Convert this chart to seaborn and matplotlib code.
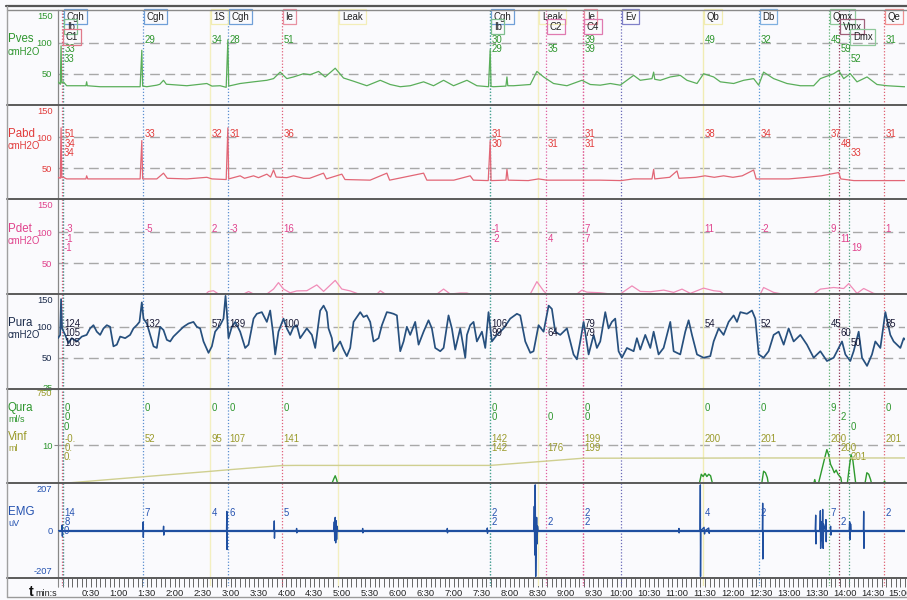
import matplotlib
matplotlib.use('Agg')
import matplotlib.pyplot as plt
from matplotlib.lines import Line2D
import seaborn as sns

sns.set_style('white')
plt.rcParams['font.family'] = ['Liberation Sans', 'DejaVu Sans']

# ---------------- data (time in seconds) ----------------
pves_pts = [(-5.5, 37), (-3.0, 33), (-2.2, 95), (-1.5, 35), (0.2, 37), (3.8, 30.6), (24.5, 30.6), (25.3, 37),
            (26.0, 30.6), (39.8, 29), (82.8, 29), (84.6, 88), (85.5, 30), (90.0, 29), (100.7, 31.5), (104.0, 33),
            (107.9, 39.4), (111.0, 33), (115.1, 32.6), (133.0, 30.6), (154.5, 34.2), (160.0, 30), (168.8, 30.6),
            (175.3, 28), (177.1, 105), (178.0, 30), (179.6, 30.6), (190.3, 34.2), (204.7, 36.9), (219.0, 39.4),
            (226.2, 42.1), (233.3, 52.6), (240.5, 42.1), (247.7, 44.8), (258.4, 50), (265.6, 48.4), (274.6, 53.7),
            (281.7, 44.8), (292.5, 58.9), (301.4, 43.1), (312.2, 37.9), (326.5, 30.6), (340.9, 39.4), (351.6, 32.6),
            (362.4, 29), (373.1, 30.6), (387.5, 36.9), (398.2, 30.6), (409.0, 39.4), (419.7, 30.6), (434.1, 39.4),
            (444.8, 30.6), (457.3, 29), (459.1, 89), (460.0, 29.5), (462.7, 29), (476.0, 30), (477.1, 44.8),
            (478.0, 30.6), (484.2, 30.6), (502.2, 32.6), (509.3, 53.7), (516.5, 44.8), (527.2, 34.2), (541.6, 30.6),
            (557.7, 39.4), (566.7, 32.6), (577.4, 31.5), (588.2, 34.2), (598.9, 31.5), (613.3, 47.4), (620.4, 39.4),
            (633.0, 42.1), (634.8, 52.6), (636.0, 41), (641.9, 39.4), (652.7, 44.8), (663.4, 47.4), (670.6, 39.4),
            (681.4, 34.2), (688.5, 50), (699.3, 44.8), (706.5, 36.9), (720.8, 34.2), (731.6, 39.4), (742.3, 42.1),
            (747.7, 31.5), (753.0, 52.6), (763.8, 42.1), (778.1, 34.2), (792.5, 30.6), (806.8, 30.6), (814.0, 42.1),
            (828.3, 50), (833.7, 55.3), (839.1, 42.1), (846.2, 50), (853.4, 36.9), (864.2, 44.8), (874.9, 32.6),
            (885.7, 30.6), (903.6, 29), (906.0, 29)]

pabd_pts = [(-5.5, 35.6), (-3, 34), (-2.2, 115.5), (-1.5, 35), (0.2, 35.6), (3.8, 33), (24.5, 33), (25.3, 38),
            (26.5, 33), (82.8, 33), (84.6, 95), (85.5, 33), (100.7, 33), (107.9, 42.3), (112, 34), (133, 33),
            (154.5, 35.6), (160, 33), (175.3, 32), (177.1, 115.5), (178, 33), (190.3, 38), (195, 34), (204.7, 38),
            (210, 35), (219, 40.7), (223, 36), (226.2, 47.4), (229, 36), (240.5, 35), (247.7, 38), (258.4, 34),
            (265, 34), (279.9, 42.3), (283, 33), (299.6, 40.7), (303, 32), (330, 31), (348, 42.3), (351, 31),
            (387.5, 42.3), (391, 31), (420, 31), (437.6, 38), (441, 31), (457, 30.3), (459.1, 95), (460, 30.3),
            (476, 31), (477.1, 48.5), (478.5, 31), (500, 30.3), (511, 33), (520, 31), (560, 31), (577, 31),
            (600, 30.3), (613, 33), (633, 33), (634.8, 48.5), (636, 33), (652, 35.6), (659.9, 45.9), (662, 34),
            (680, 35.6), (690, 38), (700, 35.6), (710, 38), (720, 35.6), (730, 38), (742.3, 47.4), (745, 33),
            (760, 33), (780, 33), (800, 35.6), (815, 38), (833.7, 43.3), (836, 33), (850, 30.3), (906, 30.3)]

pdet_pts = [(-5.5, -3), (152.8, -3), (153.5, 0), (156.3, 4), (161.6, 5.3), (167, 0), (167.5, -3), (193.5, -3),
            (194, 0), (199.4, 4), (204.7, 0), (205.2, -3), (218.5, -3), (219, 0), (226.2, 8), (231.5, 18.4),
            (236.9, 8), (244, 2), (251.2, 5), (262, 5.3), (272.7, 14.7), (280, 4.2), (292.5, 22), (299.6, 8),
            (308.6, 5), (317.6, 0), (318, -3), (336.9, -3), (337.4, 0), (341, 5.3), (346.3, 0), (346.8, -3),
            (401.4, -3), (401.9, 0), (409, 8), (416.1, 0), (426.9, 1.6), (434, 1.6), (437.6, 0), (438, -3),
            (501.7, -3), (502.2, 0), (509.3, 20), (516.5, 5), (520, 0), (520.5, -3), (551.8, -3), (552.3, 0),
            (557.7, 6.3), (563, 3), (577.4, 2), (588.2, 0), (588.7, -3), (598.4, -3), (598.9, 0), (611.5, 13.1),
            (620.4, 4.2), (631.2, 3.6), (645.6, 6.3), (656.3, 2.6), (665.3, 7.9), (674.2, 1), (688.5, 9.5),
            (699.3, 5.3), (706.5, 4.2), (710, 0), (710.5, -3), (749, -3), (749.5, 0), (753, 10.5), (763.8, 2.6),
            (772.8, 0), (773.3, -3), (806.3, -3), (806.8, 0), (814, 7.9), (828.3, 10.5), (839.1, 8.9),
            (844.5, 16.8), (853.4, 1), (860.6, 8.9), (871.3, 1), (874.9, 0), (875.4, -3), (906, -3)]

pura_pts = [(-5.5, 81.6), (-3.2, 86.9), (-2.2, 144.7), (-1.1, 97.4), (2.2, 86.9), (5.7, 73.7), (9.3, 81.6),
            (14.7, 76.3), (20.1, 84.2), (25.3, 86.9), (29.0, 97.4), (32.6, 102.6), (36.2, 92.1), (39.8, 86.9),
            (43.4, 97.4), (47.0, 102.6), (50.5, 100), (54.1, 68.4), (57.7, 71.1), (61.3, 84.2), (66.7, 81.6),
            (72.0, 86.9), (75.6, 97.4), (79.2, 102.6), (82.1, 107.9), (84.6, 139.5), (86.4, 113.2), (90.0, 105.3),
            (93.6, 86.9), (97.2, 68.4), (100.7, 65.8), (104.3, 100), (107.9, 94.7), (111.5, 78.9), (115.1, 76.3),
            (118.6, 84.2), (124.0, 92.1), (129.4, 100), (134.8, 105.3), (140.1, 107.9), (143.7, 100),
            (147.3, 97.4), (150.9, 76.3), (156.3, 57.9), (159.9, 68.4), (163.4, 92.1), (168.8, 102.6),
            (172.4, 113.2), (174.6, 150), (176.0, 123.7), (177.8, 81.6), (181.4, 100), (185.0, 107.9),
            (190.3, 92.1), (195.7, 65.8), (199.3, 71.1), (204.7, 113.2), (208.2, 121), (213.6, 123.7),
            (219.0, 107.9), (222.6, 126.3), (225.5, 92.1), (228.0, 55.3), (231.5, 92.1), (236.9, 113.2),
            (240.5, 97.4), (244.1, 86.9), (247.7, 100), (251.2, 102.6), (254.8, 81.6), (262.0, 97.4),
            (267.4, 86.9), (271.0, 65.8), (276.3, 126), (280.0, 134.2), (283.5, 123.7), (285.3, 97.4),
            (288.9, 81.6), (290.7, 60.5), (294.3, 68.4), (297.8, 76.3), (301.4, 63.2), (305.0, 52.6),
            (308.6, 65.8), (312.2, 107.9), (315.8, 115.8), (319.4, 123.7), (322.9, 115.8), (326.5, 118.4),
            (330.1, 107.9), (333.7, 76.3), (339.1, 81.6), (342.7, 102.6), (348.0, 123.7), (351.6, 122.6),
            (355.2, 121), (358.8, 118.4), (362.4, 60.5), (366.0, 76.3), (369.5, 100), (373.1, 86.9),
            (378.5, 107.9), (382.1, 71.1), (387.5, 92.1), (392.8, 110.5), (396.4, 97.4), (400.0, 65.8),
            (405.4, 60.5), (409.0, 65.8), (414.3, 118.4), (417.9, 97.4), (421.5, 63.2), (426.9, 97.4),
            (432.3, 50), (434.1, 86.9), (437.6, 102.6), (441.2, 107.9), (444.8, 76.3), (450.2, 92.1),
            (453.8, 65.8), (457.3, 123.7), (460.9, 76.3), (466.3, 86.9), (473.5, 97.4), (480.6, 113.2),
            (487.8, 121), (491.4, 118.4), (496.8, 76.3), (502.2, 57.9), (505.7, 60.5), (511.1, 102.6),
            (516.5, 92.1), (521.9, 134.2), (525.4, 128.9), (529.0, 92.1), (534.4, 86.9), (541.6, 97.4),
            (545.2, 76.3), (548.7, 55.3), (552.3, 47.4), (555.9, 76.3), (559.5, 107.9), (564.9, 55.3),
            (570.3, 86.9), (573.8, 65.8), (577.4, 76.3), (582.8, 123.7), (586.3, 97.4), (589.9, 107.9),
            (593.5, 113.2), (597.1, 60.5), (600.7, 50), (606.1, 65.8), (613.3, 60.5), (616.8, 81.6),
            (620.4, 63.2), (625.8, 86.9), (631.2, 65.8), (634.8, 92.1), (640.1, 55.3), (645.5, 65.8),
            (652.7, 107.9), (656.3, 60.5), (663.4, 55.3), (668.8, 92.1), (672.4, 110.5), (676.0, 86.9),
            (681.4, 55.3), (688.5, 50), (695.7, 52.6), (699.3, 76.3), (704.7, 97.4), (710.0, 86.9),
            (715.4, 107.9), (720.8, 118.4), (724.4, 107.9), (728.0, 123.7), (735.1, 121), (740.5, 126.3),
            (744.1, 113.2), (747.7, 55.3), (753.0, 50), (758.4, 60.5), (763.8, 86.9), (769.2, 92.1),
            (774.6, 71.1), (779.9, 97.4), (785.3, 76.3), (792.5, 86.9), (799.6, 71.1), (806.8, 50),
            (814.0, 60.5), (821.1, 44.7), (828.3, 50), (833.7, 65.8), (837.3, 76.3), (840.9, 55.3),
            (846.2, 44.7), (849.8, 60.5), (855.2, 92.1), (858.8, 50), (864.2, 36.8), (869.5, 55.3),
            (873.1, 76.3), (878.5, 65.8), (883.9, 123.7), (889.2, 86.9), (892.8, 76.3), (900.0, 65.8),
            (903.6, 81.6), (906.0, 78)]

qura_pts = [(-5.5, 0), (289, 0), (291, 1.2), (292.5, 2.0), (294, 1.0), (295, 0), (684, 0), (686, 2.4),
            (688, 1.8), (690, 2.6), (692, 1.8), (694, 2.4), (696, 2.0), (698, 0), (751, 0), (753, 3.2),
            (755, 2.8), (757, 1.5), (758, 0), (807, 0), (808, 1.0), (809, 0), (812, 0), (816, 4), (819, 7),
            (821, 8.9), (823, 7.5), (825, 5.0), (827, 4), (829, 2.8), (831, 3.5), (833, 2.4), (836, 1.5),
            (837, 0), (843, 0), (845, 4), (847, 7.6), (849, 6), (851, 2), (852, 0), (862, 0), (864, 2.8),
            (866, 2.4), (868, 1), (869, 0), (882, 0), (883, 0.6), (884, 0), (906, 0)]

vinf_pts = [(-5.5, 0), (0, 0), (86, 52), (158, 95), (177, 107), (235, 141), (250, 142), (459, 142),
            (519, 176), (559, 199), (688, 200), (748, 201), (906, 201)]

emg_pts = [(-5.5, 0), (-1.2, 0), (-1.0, 25), (-0.8, -25), (-0.5, 0), (85.7, 0), (86.0, 39), (86.2, -30),
           (86.5, 0), (107.7, 0), (108.0, 20), (108.2, -20), (108.5, 0), (175.7, 0), (176.0, 87), (176.2, -85),
           (176.5, 0), (226.7, 0), (227.0, 44), (227.2, -34), (227.5, 0), (250.7, 0), (251.0, 10), (251.2, -10),
           (251.5, 0), (291.0, 0), (291.5, 40), (292.0, -45), (292.5, 60), (293.0, -55), (293.5, 45),
           (294.0, -40), (294.5, 20), (295.0, 0), (321.7, 0), (322.0, 10), (322.2, -10), (322.5, 0), (412.7, 0),
           (413.0, 10), (413.2, -10), (413.5, 0), (455.7, 0), (456.0, 12), (456.2, -12), (456.5, 0), (506.0, 0),
           (506.5, 110), (507.0, -110), (507.5, 207), (508.0, -207), (509.0, 60), (509.5, -60), (510.0, 20),
           (510.5, 0), (661.7, 0), (662.0, 10), (662.2, -10), (662.5, 0), (684.7, 0), (685.0, 207),
           (685.2, -207), (685.5, 0), (689.0, 15), (689.5, -15), (690.0, 0), (694.0, 12), (694.5, -12),
           (695.0, 0), (751.7, 0), (752.0, 124), (752.2, -128), (752.5, 0), (808.5, 0), (809.0, 70),
           (809.3, -60), (809.6, 0), (813.5, 0), (814.0, 90), (814.3, -80), (815.5, 40), (816.0, -45),
           (816.5, 96), (817.0, -80), (817.5, 30), (819.5, 0), (820.0, 50), (820.3, -50), (820.6, 0),
           (824.7, 0), (825.0, 20), (825.3, -20), (825.6, 0), (845.0, 0), (845.5, 40), (846.0, -40),
           (846.5, 30), (847.0, 0), (860.3, 0), (860.6, 87), (860.9, -80), (861.2, 0), (906, 0)]

# events: time, marker label, label row
ev_time = [0, 0, -1, 86, 158, 177, 235, 296, 459, 459, 511, 519, 559, 559, 600, 688, 748, 823, 834, 845, 882]
ev_name = ['Cgh', 'Ib', 'C1', 'Cgh', '1S', 'Cgh', 'Ie', 'Leak', 'Cgh', 'Ib', 'Leak', 'C2', 'Ie', 'C4', 'Ev',
           'Qb', 'Db', 'Qmx', 'Vmx', 'Dmx', 'Qe']
ev_row = [1, 2, 3, 1, 1, 1, 1, 1, 1, 2, 1, 2, 1, 2, 1, 1, 1, 1, 2, 3, 1]

pves_vals = ['', '33', '33', '29', '34', '28', '51', '', '30', '29', '', '35', '39', '39', '', '49', '32', '45', '59', '52', '31']
pabd_vals = ['51', '34', '34', '33', '32', '31', '36', '', '31', '30', '', '31', '31', '31', '', '38', '34', '37', '48', '33', '31']
pdet_vals = ['-3', '-1', '-1', '-5', '2', '-3', '16', '', '-1', '-2', '', '4', '7', '7', '', '11', '-2', '9', '11', '19', '1']
pura_vals = ['124', '105', '105', '132', '57', '139', '100', '', '106', '99', '', '64', '79', '79', '', '54', '52', '45', '60', '50', '85']
qura_vals = ['0', '0', '0', '0', '0', '0', '0', '', '0', '0', '', '0', '0', '0', '', '0', '0', '9', '2', '0', '0']
vinf_vals = ['-0.', '0.', '0.', '52', '95', '107', '141', '', '142', '142', '', '176', '199', '199', '', '200', '201', '200', '200', '201', '201']
emg_vals = ['14', '8', '0', '7', '4', '6', '5', '', '2', '2', '', '2', '2', '2', '', '4', '2', '7', '2', '', '2']

ruler_major = [30, 60, 90, 120, 150, 180, 210, 240, 270, 300, 330, 360, 390, 420, 450, 480, 510, 540, 570, 600,
               630, 660, 690, 720, 750, 780, 810, 840, 870, 900]
ruler_labels = ['0:30', '1:00', '1:30', '2:00', '2:30', '3:00', '3:30', '4:00', '4:30', '5:00', '5:30', '6:00',
                '6:30', '7:00', '7:30', '8:00', '8:30', '9:00', '9:30', '10:00', '10:30', '11:00', '11:30', '12:00',
                '12:30', '13:00', '13:30', '14:00', '14:30', '15:00']
ruler_minor = list(range(-5, 906, 5))

# ---------------- styling ----------------
BG = '#fafafd'
C_PVES, C_PVES_T = '#2e962e', '#5aae5a'
C_PABD, C_PABD_T = '#e23b3b', '#e26676'
C_PDET, C_PDET_T = '#e0428c', '#f08cb8'
C_PURA, C_PURA_T = '#1c2c4c', '#27507e'
C_QURA, C_QURA_T = '#2e962e', '#2e9a2e'
C_VINF, C_VINF_T = '#9a9a2a', '#cfcf90'
C_EMG, C_EMG_T = '#2452b0', '#1f4fa0'

ev_style = {
    'Cgh': ('#6f9fd8', '#5b8fd0'), 'Ib': ('#7fbf8f', '#4aa88a'), 'C1': ('#e07a8a', '#e05a7a'),
    '1S': ('#f1ecb0', '#f3efc0'), 'Ie': ('#e890a0', '#e0607a'), 'Leak': ('#f3eeb8', '#f3efc0'),
    'C2': ('#e07ab0', '#e060a0'), 'C4': ('#e07ab0', '#e060a0'), 'Ev': ('#8080c8', '#6a6ab8'),
    'Qb': ('#f1ecb0', '#f0ecb4'), 'Db': ('#7fb0e0', '#5a9ad8'), 'Qmx': ('#8fc89a', '#5ab070'),
    'Vmx': ('#a0607a', '#903050'), 'Dmx': ('#8fc89a', '#50a080'), 'Qe': ('#f09090', '#e06070'),
}

W, H = 907, 600
XMIN, XMAX = -5.5, 905
X0, X1 = 58, 905
TOP = 10
PH = (578 - 10) / 6.0

fig = plt.figure(figsize=(9.07, 6.0), dpi=100, facecolor=BG)


def add_px_axes(top, height):
    return fig.add_axes([X0 / W, 1 - (top + height) / H, (X1 - X0) / W, height / H])


def base_setup(ax):
    ax.set_facecolor('none')
    ax.set_xlim(XMIN, XMAX)
    for s in ['top', 'right', 'bottom']:
        ax.spines[s].set_visible(False)
    ax.spines['left'].set_color('#888888')
    ax.spines['left'].set_linewidth(0.9)
    ax.set_xticks([])
    ax.tick_params(axis='y', length=3, width=0.8, color='#888888', labelsize=6.7, pad=1)


def draw_events(ax):
    seen = set()
    for t, n in zip(ev_time, ev_name):
        key = (t, n)
        if key in seen:
            continue
        seen.add(key)
        col = ev_style[n][1]
        if n in ('1S', 'Leak', 'Qb'):
            ax.axvline(t, color=col, lw=1.0, ls='-', zorder=1)
        else:
            ax.axvline(t, color=col, lw=0.9, ls=(0, (1, 1.5)), zorder=1)


def dashed(ax, levels):
    for d in levels:
        ax.axhline(d, color='#a8a8a8', lw=1.0, ls=(0, (7, 4)), zorder=0.5)


def values(ax, vals, y0, color, step=9.5):
    tr = ax.get_xaxis_transform()
    for t, r, v in zip(ev_time, ev_row, vals):
        if v == '':
            continue
        ax.annotate(v, xy=(t, y0), xycoords=tr, xytext=(1.2, -(r - 1) * step * 0.72),
                    textcoords='offset points', ha='left', va='baseline', fontsize=6.9,
                    color=color, zorder=6, annotation_clip=False)


def trace(ax, pts, color, lw=0.9):
    tt = [p[0] for p in pts]
    vv = [p[1] for p in pts]
    sns.lineplot(x=tt, y=vv, ax=ax, color=color, lw=lw, estimator=None, sort=False, zorder=3)
    ax.set_xlabel('')
    ax.set_ylabel('')


axes = [add_px_axes(TOP + i * PH, PH) for i in range(6)]
ax1, ax2, ax3, ax4, ax5, ax6 = axes

press = [(ax1, pves_pts, C_PVES, C_PVES_T, pves_vals),
         (ax2, pabd_pts, C_PABD, C_PABD_T, pabd_vals),
         (ax3, pdet_pts, C_PDET, C_PDET_T, pdet_vals),
         (ax4, pura_pts, C_PURA, C_PURA_T, pura_vals)]
for ax, pts, c, ct, vals in press:
    base_setup(ax)
    draw_events(ax)
    dashed(ax, [50, 100])
    trace(ax, pts, ct, lw=1.25 if ax is ax4 else 0.9)
    ax.set_ylim(0, 153)
    ax.set_yticks([50, 100, 150])
    ax.set_yticklabels(['50', '100', '150'])
    ax.tick_params(axis='y', labelcolor=c)
    ax.get_yticklabels()[2].set_va('top')
    y0 = 100 / 153.0
    values(ax, vals, y0, c if ax is not ax4 else '#1a1a36')

# Qura / Vinf panel
base_setup(ax5)
draw_events(ax5)
ax5.set_ylim(0, 25)
dashed(ax5, [10])
trace(ax5, qura_pts, C_QURA_T, lw=1.0)
ax5.set_yticks([10, 25])
ax5.set_yticklabels(['10', '25'])
ax5.tick_params(axis='y', labelcolor=C_QURA)
ax5.get_yticklabels()[1].set_va('center')
ax5v = ax5.twinx()
ax5v.set_facecolor('none')
for s in ax5v.spines.values():
    s.set_visible(False)
trace(ax5v, vinf_pts, C_VINF_T, lw=1.0)
ax5v.set_xlim(XMIN, XMAX)
ax5v.set_ylim(0, 750)
ax5v.yaxis.set_ticks_position('left')
ax5v.set_yticks([750])
ax5v.set_yticklabels(['750'])
ax5v.tick_params(axis='y', length=0, labelsize=6.7, labelcolor=C_VINF, pad=4)
ax5v.get_yticklabels()[0].set_va('top')
values(ax5, qura_vals, 1 - (411 - (TOP + 4 * PH)) / PH, C_QURA)
values(ax5, vinf_vals, 1 - (441.5 - (TOP + 4 * PH)) / PH, C_VINF)

# EMG panel
base_setup(ax6)
draw_events(ax6)
ax6.set_ylim(-214, 214)
trace(ax6, emg_pts, C_EMG_T, lw=1.0)
ax6.axhline(0, color=C_EMG_T, lw=1.6, zorder=2)
ax6.set_yticks([-207, 0, 207])
ax6.set_yticklabels(['-207', '0', '207'])
ax6.tick_params(axis='y', labelcolor=C_EMG)
ax6.get_yticklabels()[2].set_va('top')
ax6.get_yticklabels()[0].set_va('bottom')
values(ax6, emg_vals, 1 - (515.5 - (TOP + 5 * PH)) / PH, C_EMG)

# event label boxes on top panel
tr1 = ax1.get_xaxis_transform()
for t, n, r in zip(ev_time, ev_name, ev_row):
    ypx = 16.5 + (r - 1) * 10.3
    yf = 1 - (ypx - TOP) / PH
    ec = ev_style[n][0]
    ax1.annotate(n, xy=(t, yf), xycoords=tr1, xytext=(2.6, 0), textcoords='offset points',
                 ha='left', va='center', fontsize=6.9, color='#222222', zorder=7,
                 bbox=dict(boxstyle='square,pad=0.28', fc='none', ec=ec, lw=0.9),
                 annotation_clip=False)

# time ruler
axr = add_px_axes(578, 8)
axr.set_facecolor('none')
axr.set_xlim(XMIN, XMAX)
axr.set_ylim(0, 1)
axr.set_yticks([])
for s in ['top', 'right', 'bottom']:
    axr.spines[s].set_visible(False)
axr.spines['left'].set_color('#888888')
draw_events(axr)
axr.set_xticks(ruler_major)
axr.set_xticklabels(ruler_labels)
axr.set_xticks(ruler_minor, minor=True)
axr.tick_params(axis='x', which='both', top=True, bottom=False, direction='in', length=6.5,
                width=0.7, color='#666666', labelbottom=True, labeltop=False, labelsize=6.7,
                pad=2.2, labelcolor='#222222')

# panel titles
def ftext(x, y, s, color, size, **kw):
    fig.text(x / W, 1 - y / H, s, color=color, fontsize=size, va='center', ha='left', **kw)

ftext(8, 39.5, 'Pves', C_PVES, 8.3)
ftext(8, 52, 'cmH2O', C_PVES, 6.9)
ftext(8, 134, 'Pabd', C_PABD, 8.3)
ftext(8, 146, 'cmH2O', C_PABD, 6.9)
ftext(8, 228.5, 'Pdet', C_PDET, 8.3)
ftext(8, 240.5, 'cmH2O', C_PDET, 6.9)
ftext(8, 322.5, 'Pura', C_PURA, 8.3)
ftext(8, 334.5, 'cmH2O', C_PURA, 6.9)
ftext(8, 408, 'Qura', C_QURA, 8.3)
ftext(8, 419, 'ml/s', C_QURA, 6.5)
ftext(8, 437.5, 'Vinf', C_VINF, 8.3)
ftext(8, 448.5, 'ml', C_VINF, 6.5)
ftext(8, 512, 'EMG', C_EMG, 8.3)
ftext(8, 523, 'uV', C_EMG, 6.5)
ftext(29, 592, 't', '#111111', 10.5, fontweight='bold')
ftext(35.5, 593.5, 'min:s', '#222222', 6.5)

# frame and separators
def hline(y, x0, x1, color, lw):
    fig.add_artist(Line2D([x0 / W, x1 / W], [1 - y / H, 1 - y / H], transform=fig.transFigure,
                          color=color, lw=lw, zorder=10))

def vline(x, y0, y1, color, lw):
    fig.add_artist(Line2D([x / W, x / W], [1 - y0 / H, 1 - y1 / H], transform=fig.transFigure,
                          color=color, lw=lw, zorder=10))

hline(5.5, 6, 907, '#555555', 1.6)
hline(TOP, 7, 907, '#8a8a8a', 1.0)
for i in range(1, 7):
    hline(TOP + i * PH, 7, 907, '#5a5a5a', 1.4)
hline(597, 7, 907, '#9a9a9a', 1.0)
vline(7, 5.5, 597, '#a0a0a0', 1.0)

fig.savefig('out.png', dpi=100, facecolor=BG)
